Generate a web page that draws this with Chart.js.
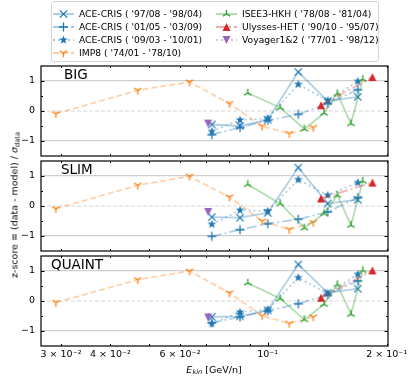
<!DOCTYPE html>
<html>
<head>
<meta charset="utf-8">
<script src="https://cdn.jsdelivr.net/npm/chart.js@4.4.1/dist/chart.umd.min.js"></script>
<style>
  body { margin: 0; background: #fff; font-family: "DejaVu Sans", sans-serif; }
  #wrap { position: relative; width: 415px; height: 381px; overflow: hidden; }
  canvas.panel { position: absolute; left: 0; }
  #legend { position: absolute; left: 51px; top: 1px; width: 326px; height: 59px;
            border: 1px solid #d4d4d4; border-radius: 3px; background: rgba(255,255,255,0.85); z-index: 5; }
  .lg { position: absolute; font-size: 9.2px; white-space: nowrap; color: #000; z-index: 6; }
  .lg canvas { position: absolute; left: 0; top: 0; }
  .lg span { position: absolute; top: 0px; }
  #ylab { position: absolute; left: 14px; top: 205px; transform: translate(-50%, -50%) rotate(-90deg);
          white-space: nowrap; font-size: 9.5px; }
  #xlab { position: absolute; left: 214px; top: 369px; transform: translate(-50%, -50%);
          white-space: nowrap; font-size: 9.5px; }
  sub { font-size: 70%; vertical-align: -0.3em; line-height: 0; }
</style>
</head>
<body>
<div id="wrap">
  <div id="legend"></div>
  <canvas id="c1" class="panel" style="top:58px" width="415" height="106"></canvas>
  <canvas id="c2" class="panel" style="top:153px" width="415" height="106"></canvas>
  <canvas id="c3" class="panel" style="top:248px" width="415" height="133"></canvas>
  <div id="ylab">z-score ≡ (data - model) / <i>σ</i><sub>data</sub></div>
  <div id="xlab"><i>E</i><sub><i>kin</i></sub> [GeV/n]</div>
</div>
<script>
// energies [GeV/n]
const aceEnergy = [0.0722, 0.0851, 0.100, 0.1195, 0.1418, 0.169];
const imp8Energy = [0.0291, 0.0469, 0.0634, 0.080, 0.0968, 0.1134, 0.1304];
const isee3Energy = [0.089, 0.1076, 0.1238, 0.1388, 0.150, 0.1624, 0.174];
const ulyssesEnergy = [0.1364, 0.184];
const voyagerEnergy = [0.0707];

// z-scores, BIG
const bigAce97 = [-0.45, -0.50, -0.29, 1.30, 0.33, 0.47];
const bigAce01 = [-0.79, -0.55, -0.31, -0.11, 0.25, 0.71];
const bigAce09 = [-0.68, -0.30, -0.25, 0.89, 0.35, 0.99];
const bigImp8 = [-0.09, 0.69, 0.97, 0.25, -0.51, -0.75, -0.55];
const bigIsee3 = [0.60, 0.11, -0.60, -0.07, 0.58, -0.42, 1.06];
const bigUlysses = [0.19, 1.13];
const bigVoyager = [-0.42];

// z-scores, SLIM
const slimAce97 = [-0.37, -0.39, -0.23, 1.28, 0.08, 0.21];
const slimAce01 = [-1.01, -0.79, -0.59, -0.44, -0.20, 0.28];
const slimAce09 = [-0.61, -0.14, -0.17, 0.88, 0.36, 0.78];
const slimImp8 = [-0.09, 0.69, 0.99, 0.30, -0.50, -0.78, -0.55];
const slimIsee3 = [0.72, 0.08, -0.73, -0.25, 0.36, -0.64, 0.83];
const slimUlysses = [0.25, 0.78];
const slimVoyager = [-0.20];

// z-scores, QUAINT
const quaintAce97 = [-0.53, -0.51, -0.31, 1.22, 0.27, 0.41];
const quaintAce01 = [-0.73, -0.53, -0.33, -0.09, 0.21, 0.67];
const quaintAce09 = [-0.75, -0.37, -0.29, 0.78, 0.25, 0.89];
const quaintImp8 = [-0.05, 0.71, 1.00, 0.27, -0.49, -0.75, -0.53];
const quaintIsee3 = [0.60, 0.08, -0.62, -0.11, 0.55, -0.44, 1.02];
const quaintUlysses = [0.11, 1.02];
const quaintVoyager = [-0.55];

const seriesNames = ["ACE-CRIS ( '97/08 - '98/04)", "ACE-CRIS ( '01/05 - '03/09)", "ACE-CRIS ( '09/03 - '10/01)",
  "IMP8 ( '74/01 - '78/10)", "ISEE3-HKH ( '78/08 - '81/04)", "Ulysses-HET ( '90/10 - '95/07)", "Voyager1&2 ( '77/01 - '98/12)"];

const xLabelTicks = [0.03, 0.04, 0.06, 0.1, 0.2];
const xTickLabels = ['3 × 10⁻²', '4 × 10⁻²', '6 × 10⁻²', '10⁻¹', '2 × 10⁻¹'];
const xMinor = [0.03, 0.04, 0.05, 0.06, 0.07, 0.08, 0.09, 0.2];
const xMajor = [0.1];
const yMajor = [-1, 0, 1];
const yMinor = [-0.5, 0.5];

// look of each series
const styles = [
  { rgb: '31,119,180', marker: 'x', dash: [] },
  { rgb: '31,119,180', marker: '+', dash: [10, 3, 2, 3] },
  { rgb: '31,119,180', marker: 'star', dash: [2, 3] },
  { rgb: '255,127,14', marker: 'tri_down', dash: [6, 3] },
  { rgb: '44,160,44', marker: 'tri_up', dash: [] },
  { rgb: '214,39,40', marker: '^', dash: [10, 3, 2, 3] },
  { rgb: '148,103,189', marker: 'v', dash: [2, 3] },
];

function drawMarker(ctx, type, cx, cy, color) {
  ctx.save();
  ctx.strokeStyle = color; ctx.fillStyle = color; ctx.lineWidth = 1.3; ctx.setLineDash([]);
  ctx.beginPath();
  if (type === 'x') {
    const r = 3.6;
    ctx.moveTo(cx - r, cy - r); ctx.lineTo(cx + r, cy + r);
    ctx.moveTo(cx - r, cy + r); ctx.lineTo(cx + r, cy - r); ctx.stroke();
  } else if (type === '+') {
    const r = 4.5;
    ctx.moveTo(cx - r, cy); ctx.lineTo(cx + r, cy);
    ctx.moveTo(cx, cy - r); ctx.lineTo(cx, cy + r); ctx.stroke();
  } else if (type === 'star') {
    const ro = 4.6, ri = 1.9;
    for (let i = 0; i < 10; i++) {
      const r = i % 2 ? ri : ro, a = -Math.PI / 2 + i * Math.PI / 5;
      const px = cx + r * Math.cos(a), py = cy + r * Math.sin(a);
      i ? ctx.lineTo(px, py) : ctx.moveTo(px, py);
    }
    ctx.closePath(); ctx.fill();
  } else if (type === 'tri_down' || type === 'tri_up') {
    const r = 4.2, s = type === 'tri_down' ? 1 : -1;
    ctx.moveTo(cx, cy); ctx.lineTo(cx, cy + s * r);
    ctx.moveTo(cx, cy); ctx.lineTo(cx - 0.866 * r, cy - s * 0.5 * r);
    ctx.moveTo(cx, cy); ctx.lineTo(cx + 0.866 * r, cy - s * 0.5 * r);
    ctx.stroke();
  } else if (type === '^' || type === 'v') {
    const r = 4, s = type === '^' ? 1 : -1;
    ctx.moveTo(cx, cy - s * r); ctx.lineTo(cx - r, cy + s * r); ctx.lineTo(cx + r, cy + s * r);
    ctx.closePath(); ctx.fill();
  }
  ctx.restore();
}

function markerCanvas(type, color) {
  const c = document.createElement('canvas');
  c.width = 12; c.height = 12;
  drawMarker(c.getContext('2d'), type, 6, 6, color);
  return c;
}

const markers = styles.map(s => markerCanvas(s.marker, 'rgb(' + s.rgb + ')'));

// legend (html)
const legendPos = [
  [53, 8], [53, 21], [53, 34], [53, 47],
  [216, 8], [216, 21], [216, 34],
];
seriesNames.forEach((name, i) => {
  const d = document.createElement('div');
  d.className = 'lg';
  d.style.left = legendPos[i][0] + 'px';
  d.style.top = legendPos[i][1] + 'px';
  const c = document.createElement('canvas');
  c.width = 22; c.height = 12;
  const g = c.getContext('2d');
  g.strokeStyle = 'rgba(' + styles[i].rgb + ',0.4)';
  g.lineWidth = 1.8;
  g.setLineDash(styles[i].dash);
  g.beginPath(); g.moveTo(0, 6); g.lineTo(21, 6); g.stroke();
  drawMarker(g, styles[i].marker, 10.5, 6, 'rgb(' + styles[i].rgb + ')');
  const t = document.createElement('span');
  t.style.left = '26px';
  t.textContent = name;
  d.appendChild(c); d.appendChild(t);
  document.getElementById('legend').parentNode.appendChild(d);
});

const frameTicks = {
  id: 'frameTicks',
  beforeDatasetsDraw(chart) {
    const { ctx, chartArea: a, scales: { y } } = chart;
    const y0 = y.getPixelForValue(0);
    ctx.save();
    ctx.strokeStyle = '#d6d6d6'; ctx.lineWidth = 1; ctx.setLineDash([4, 2]);
    ctx.beginPath(); ctx.moveTo(a.left, y0); ctx.lineTo(a.right, y0); ctx.stroke();
    ctx.restore();
  },
  afterDraw(chart, args, opts) {
    const { ctx, chartArea: a, scales: { x, y } } = chart;
    ctx.save();
    ctx.strokeStyle = '#000'; ctx.lineWidth = 1;
    ctx.beginPath();
    const xt = (v, len) => {
      const p = Math.round(x.getPixelForValue(v)) + 0.5;
      ctx.moveTo(p, a.bottom); ctx.lineTo(p, a.bottom - len);
      ctx.moveTo(p, a.top); ctx.lineTo(p, a.top + len);
    };
    const yt = (v, len) => {
      const p = Math.round(y.getPixelForValue(v)) + 0.5;
      ctx.moveTo(a.left, p); ctx.lineTo(a.left + len, p);
      ctx.moveTo(a.right, p); ctx.lineTo(a.right - len, p);
    };
    xMajor.forEach(v => xt(v, 3.5));
    xMinor.forEach(v => xt(v, 2));
    yMajor.forEach(v => yt(v, 3.5));
    yMinor.forEach(v => yt(v, 2));
    ctx.stroke();
    ctx.lineWidth = 1.2;
    ctx.strokeRect(a.left, a.top, a.right - a.left, a.bottom - a.top);
    ctx.fillStyle = '#000';
    ctx.font = '13.5px "DejaVu Sans"';
    ctx.textBaseline = 'alphabetic';
    ctx.fillText(opts.label, opts.labelX, a.top + 13);
    ctx.restore();
  }
};

function makeDatasets(values) {
  const energies = [aceEnergy, aceEnergy, aceEnergy, imp8Energy, isee3Energy, ulyssesEnergy, voyagerEnergy];
  return values.map((vals, i) => ({
    label: seriesNames[i],
    data: vals.map((v, k) => ({ x: energies[i][k], y: v })),
    borderColor: 'rgba(' + styles[i].rgb + ',0.35)',
    borderWidth: 1.8,
    borderDash: styles[i].dash,
    pointStyle: markers[i],
    pointRadius: 4,
    showLine: true,
    fill: false,
    order: values.length - i,
  }));
}

function makeChart(id, label, labelX, values, showX) {
  return new Chart(document.getElementById(id), {
    type: 'line',
    data: { datasets: makeDatasets(values) },
    options: {
      responsive: false,
      animation: false,
      events: [],
      layout: { padding: { left: 0, right: 27, top: 8, bottom: showX ? 0 : 8 } },
      plugins: {
        legend: { display: false },
        tooltip: { enabled: false },
        frameTicks: { label: label, labelX: labelX },
      },
      scales: {
        x: {
          type: 'logarithmic',
          min: 0.0267, max: 0.2015,
          display: showX,
          grid: { display: false, drawTicks: false },
          border: { display: false },
          afterBuildTicks: s => { s.ticks = xLabelTicks.map(v => ({ value: v })); },
          afterFit: s => {
            s.height = showX ? 35 : 0;
            s.paddingLeft = 0; s.paddingRight = 0;
          },
          ticks: {
            autoSkip: false, maxRotation: 0, padding: 3,
            color: '#000', font: { family: 'DejaVu Sans', size: 9.5 },
            callback: (v, i) => xTickLabels[i],
          },
        },
        y: {
          min: -1.5, max: 1.5,
          afterBuildTicks: s => { s.ticks = yMajor.map(v => ({ value: v })); },
          afterFit: s => {
            s.width = 41;
            s.paddingTop = 0; s.paddingBottom = 0;
          },
          border: { display: false },
          grid: {
            drawTicks: false, lineWidth: 1.2,
            color: c => (c.tick && c.tick.value === 0) ? 'rgba(0,0,0,0)' : '#cfcfcf',
          },
          ticks: {
            padding: 6, color: '#000', font: { family: 'DejaVu Sans', size: 9.5 },
            callback: v => (v < 0 ? '−' + Math.abs(v) : String(v)),
          },
        },
      },
    },
    plugins: [frameTicks],
  });
}

makeChart('c1', 'BIG', 64, [bigAce97, bigAce01, bigAce09, bigImp8, bigIsee3, bigUlysses, bigVoyager], false);
makeChart('c2', 'SLIM', 61, [slimAce97, slimAce01, slimAce09, slimImp8, slimIsee3, slimUlysses, slimVoyager], false);
makeChart('c3', 'QUAINT', 51, [quaintAce97, quaintAce01, quaintAce09, quaintImp8, quaintIsee3, quaintUlysses, quaintVoyager], true);
</script>
</body>
</html>
